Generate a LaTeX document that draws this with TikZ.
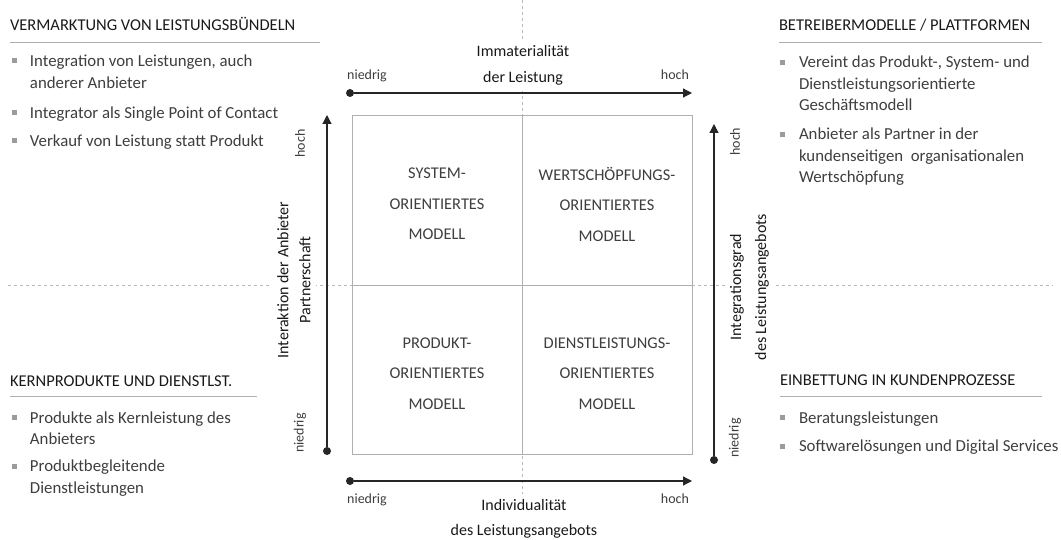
\documentclass[tikz,border=0pt]{standalone}
\usepackage{fontspec}
\setmainfont{Carlito}
\usepackage{tikz}
\usetikzlibrary{positioning, arrows.meta, calc}
\definecolor{rulegray}{RGB}{175,175,175}
\definecolor{dashgray}{RGB}{185,185,185}
\definecolor{bodygray}{RGB}{62,62,62}
\definecolor{squaregray}{RGB}{155,155,155}
\tikzset{
  portfolio/.style={
	x=1pt, y=-1pt, % one unit is one pixel, y runs downwards
	every node/.style={inner sep=0pt, outer sep=0pt},
	scalearrow/.style={-{Triangle[length=9pt, width=9pt]}, line width=1.2pt, black!85}, % axis with arrow head
	dot/.style={circle, fill=black!85, minimum size=8pt}, % low end of an axis
	title/.style={anchor=base west, font=\fontsize{16.5}{19}\selectfont, text=black!90},
	titlerule/.style={draw=rulegray, line width=0.9pt},
	bullettext/.style={anchor=base west, text width=290pt, align=flush left, font=\fontsize{16.8}{21.5}\selectfont, text=bodygray}, % text width: base is the first line
	square/.style={fill=squaregray, minimum size=5pt},
	quadrant/.style={draw=rulegray, line width=1pt, minimum width=170pt, minimum height=169.5pt},
	model/.style={align=center, font=\fontsize{16.4}{30.5}\selectfont, text=bodygray},
	scale label/.style={font=\fontsize{14}{16}\selectfont, text=bodygray},
	axis label/.style={align=flush center, fill=white, inner sep=5pt, text=black!90},
	guide/.style={draw=dashgray, dash pattern=on 3pt off 3pt, line width=0.8pt},
  }
}

\begin{document}
\begin{tikzpicture}[portfolio]
	  \useasboundingbox (0,0) rectangle (1061,540);
	  % dashed guides behind everything
	  \draw[guide] (522,0) -- (522,540);
	  \draw[guide] (8,285) -- (1053,285);

	  % four corners
	  \node[title] (vm) at (10,30.7) {VERMARKTUNG VON LEISTUNGSBÜNDELN};
	  \draw[titlerule] (10,42) -- (320,42);
	  \node[bullettext] (vm1) at (30,66.7) {Integration von Leistungen, auch\\anderer Anbieter};
	  \node[bullettext] (vm2) at (30,118.3) {Integrator als Single Point of Contact};
	  \node[bullettext] (vm3) at (30,146.7) {Verkauf von Leistung statt Produkt};

	  \node[title] (bp) at (779,30.3) {BETREIBERMODELLE / PLATTFORMEN};
	  \draw[titlerule] (779,42) -- (1042,42);
	  \node[bullettext] (bp1) at (799,68) {Vereint das Produkt-, System- und\\Dienstleistungsorientierte\\Geschäftsmodell};
	  \node[bullettext] (bp2) at (799,140) {Anbieter als Partner in der\\kundenseitigen~ organisationalen\\Wertschöpfung};

	  \node[title] (kp) at (10,386) {KERNPRODUKTE UND DIENSTLST.};
	  \draw[titlerule] (10,396) -- (257,396);
	  \node[bullettext] (kp1) at (30,423.3) {Produkte als Kernleistung des\\Anbieters};
	  \node[bullettext] (kp2) at (30,471.7) {Produktbegleitende\\Dienstleistungen};

	  \node[title] (ek) at (780,385.5) {EINBETTUNG IN KUNDENPROZESSE};
	  \draw[titlerule] (780,396) -- (1042,396);
	  \node[bullettext] (ek1) at (799,423) {Beratungsleistungen};
	  \node[bullettext] (ek2) at (799,451.7) {Softwarelösungen und Digital Services};

	  \foreach \it in {vm1,vm2,vm3,kp1,kp2}
		\node[square] (sq-\it) at ($(\it.base west)+(-16,-5.7)$) {};
	  \foreach \it in {bp1,bp2,ek1,ek2}
		\node[square] (sq-\it) at ($(\it.base west)+(-17,-5.7)$) {};

	  % portfolio matrix
	  \node[quadrant] (sys) at (437,200.5) {};
	  \node[quadrant] (wert) at (607,200.5) {};
	  \node[quadrant] (prod) at (437,370) {};
	  \node[quadrant] (dienst) at (607,370) {};
	  \node[model] (sys-t) at ($(sys)+(0,3.7)$) {SYSTEM-\\ORIENTIERTES\\MODELL};
	  \node[model] (wert-t) at ($(wert)+(0,3.7)$) {WERTSCHÖPFUNGS-\\ORIENTIERTES\\MODELL};
	  \node[model] (prod-t) at ($(prod)+(0,3.7)$) {PRODUKT-\\ORIENTIERTES\\MODELL};
	  \node[model] (dienst-t) at ($(dienst)+(0,3.7)$) {DIENSTLEISTUNGS-\\ORIENTIERTES\\MODELL};

	  % axis labels
	  \node[axis label, anchor=base, text width=150pt, font=\fontsize{16}{26.3}\selectfont] (imm) at (523,56.7) {Immaterialität\\der Leistung};
	  \node[axis label, anchor=base, text width=150pt, font=\fontsize{16}{25}\selectfont] (ind) at (524,510) {Individualität\\des Leistungsangebots};
	  \node[axis label, rotate=90, font=\fontsize{16}{22}\selectfont] (int) at (294,280) {Interaktion der Anbieter\\Partnerschaft};
	  \node[axis label, rotate=90, font=\fontsize{16}{25}\selectfont] (igr) at (749.5,287) {Integrationsgrad\\des Leistungsangebots};

	  % axes
	  \node[dot] (tlo) at (350,93) {};
	  \coordinate (thi) at (692,93);
	  \node[dot] (blo) at (350,481) {};
	  \coordinate (bhi) at (692,481);
	  \node[dot] (llo) at (327,451) {};
	  \coordinate (lhi) at (327,115);
	  \node[dot] (rlo) at (714,460) {};
	  \coordinate (rhi) at (714,124);
	  \draw[scalearrow] (tlo) -- (thi);
	  \draw[scalearrow] (blo) -- (bhi);
	  \draw[scalearrow] (llo) -- (lhi);
	  \draw[scalearrow] (rlo) -- (rhi);

	  \node[scale label, anchor=base] (tlo-l) at (367,80) {niedrig};
	  \node[scale label, anchor=base] (thi-l) at (675,80) {hoch};
	  \node[scale label, anchor=base] (blo-l) at (367,503) {niedrig};
	  \node[scale label, anchor=base] (bhi-l) at (675,503) {hoch};
	  \node[scale label, rotate=90] (lhi-l) at (300,143.5) {hoch};
	  \node[scale label, rotate=90] (llo-l) at (300,433) {niedrig};
	  \node[scale label, rotate=90] (rhi-l) at (735,141.7) {hoch};
	  \node[scale label, rotate=90] (rlo-l) at (735,438) {niedrig};
\end{tikzpicture}
\end{document}
